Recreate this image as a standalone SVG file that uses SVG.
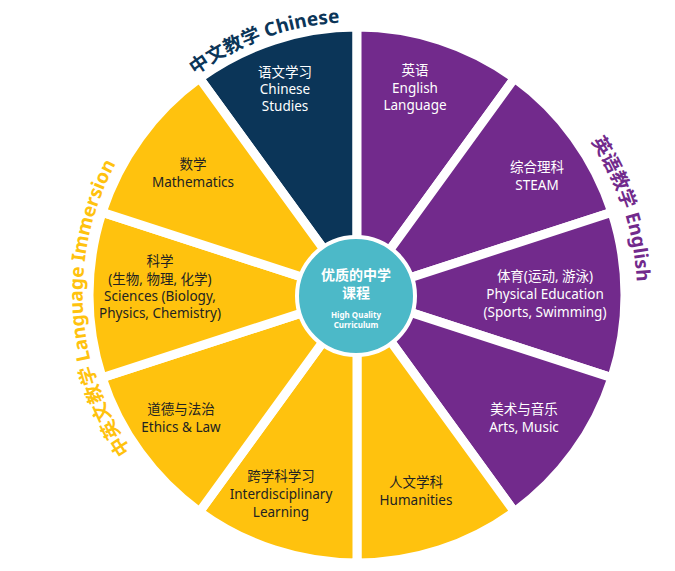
<svg xmlns="http://www.w3.org/2000/svg" width="675" height="571" viewBox="0 0 675 571">
<style>
.s{stroke:#fff;stroke-width:9;stroke-linejoin:round}
.n{fill:#0B3558}.p{fill:#722A8C}.y{fill:#FFC20E}
text{font-family:"Noto Sans","Noto Sans CJK SC",sans-serif;text-anchor:middle}
.l{font-size:13.5px}
.w{fill:#fff}.k{fill:#222}
.c{font-size:19px;font-weight:bold}
</style>
<defs>
<path id="aC" d="M120.6,158.5 A273,273 0 0 1 450.4,38.5"/>
<path id="aE" d="M497,52.5 A280,280 0 0 1 612.8,408.9"/>
<path id="aL" d="M173,499.4 A277,277 0 0 1 152.6,111"/>
</defs>
<g id="sectors">
<g id="chinese"><path class="s n" d="M357,295 L199.5,78.2 A268,268 0 0 1 357,27 Z"/><text class="l w"><tspan x="285" y="77">语文学习</tspan><tspan x="285" y="94">Chinese</tspan><tspan x="285" y="111">Studies</tspan></text></g>
<g id="english"><path class="s p" d="M357,295 L357,27 A268,268 0 0 1 514.5,78.2 Z"/><text class="l w"><tspan x="415" y="75">英语</tspan><tspan x="415" y="93">English</tspan><tspan x="415" y="110">Language</tspan></text></g>
<g id="steam"><path class="s p" d="M357,295 L514.5,78.2 A268,268 0 0 1 611.9,212.2 Z"/><text class="l w"><tspan x="537" y="172">综合理科</tspan><tspan x="537" y="190">STEAM</tspan></text></g>
<g id="pe"><path class="s p" d="M357,295 L611.9,212.2 A268,268 0 0 1 611.9,377.8 Z"/><text class="l w"><tspan x="545" y="281">体育(运动, 游泳)</tspan><tspan x="545" y="299">Physical Education</tspan><tspan x="545" y="317">(Sports, Swimming)</tspan></text></g>
<g id="arts"><path class="s p" d="M357,295 L611.9,377.8 A268,268 0 0 1 514.5,511.8 Z"/><text class="l w"><tspan x="524" y="414">美术与音乐</tspan><tspan x="524" y="432">Arts, Music</tspan></text></g>
<g id="humanities"><path class="s y" d="M357,295 L514.5,511.8 A268,268 0 0 1 357,563 Z"/><text class="l k"><tspan x="416" y="487">人文学科</tspan><tspan x="416" y="505">Humanities</tspan></text></g>
<g id="interdisciplinary"><path class="s y" d="M357,295 L357,563 A268,268 0 0 1 199.5,511.8 Z"/><text class="l k"><tspan x="281" y="481">跨学科学习</tspan><tspan x="281" y="499">Interdisciplinary</tspan><tspan x="281" y="517">Learning</tspan></text></g>
<g id="ethics"><path class="s y" d="M357,295 L199.5,511.8 A268,268 0 0 1 102.1,377.8 Z"/><text class="l k"><tspan x="181" y="414">道德与法治</tspan><tspan x="181" y="432">Ethics &amp; Law</tspan></text></g>
<g id="sciences"><path class="s y" d="M357,295 L102.1,377.8 A268,268 0 0 1 102.1,212.2 Z"/><text class="l k"><tspan x="160" y="266">科学</tspan><tspan x="160" y="284">(生物, 物理, 化学)</tspan><tspan x="160" y="301">Sciences (Biology,</tspan><tspan x="160" y="318">Physics, Chemistry)</tspan></text></g>
<g id="math"><path class="s y" d="M357,295 L102.1,212.2 A268,268 0 0 1 199.5,78.2 Z"/><text class="l k"><tspan x="193" y="169">数学</tspan><tspan x="193" y="187">Mathematics</tspan></text></g>
</g>
<g id="center"><circle cx="356" cy="296" r="59" fill="#4CB9C8" stroke="#fff" stroke-width="4"/>
<text class="w" style="font-size:14px;font-weight:bold"><tspan x="356" y="280">优质的中学</tspan><tspan x="356" y="298">课程</tspan></text>
<text class="w" style="font-size:8px;font-weight:bold"><tspan x="356" y="318">High Quality</tspan><tspan x="356" y="328">Curriculum</tspan></text></g>
<g id="group-labels">
<text class="c" fill="#0B3558"><textPath href="#aC" startOffset="50%">中文教学 Chinese</textPath></text>
<text class="c" fill="#722A8C"><textPath href="#aE" startOffset="50%">英语教学 English</textPath></text>
<text class="c" fill="#FFC20E"><textPath href="#aL" startOffset="50%">中英文教学 Language Immersion</textPath></text>
</g>
</svg>
